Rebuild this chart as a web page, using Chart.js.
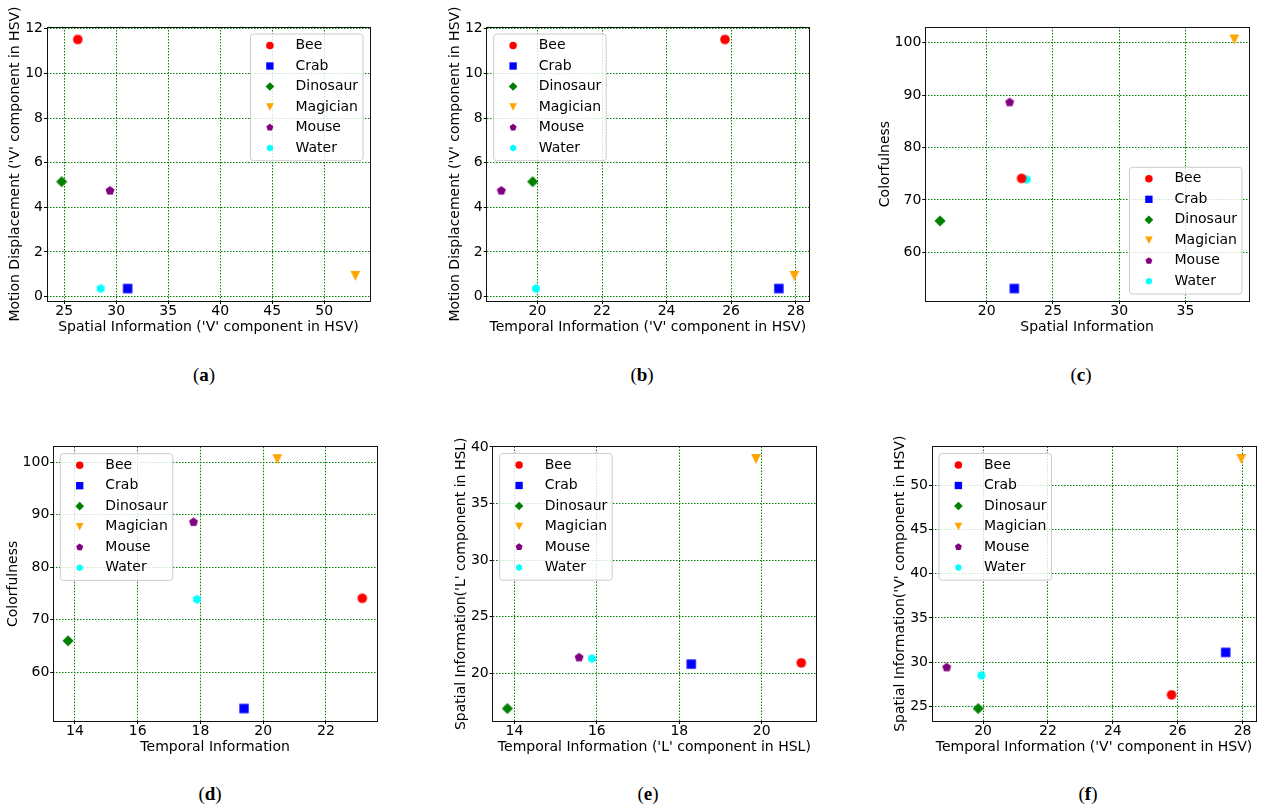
<!DOCTYPE html>
<html>
<head>
<meta charset="utf-8">
<title>Video feature scatter plots</title>
<script src="https://cdn.jsdelivr.net/npm/chart.js@4"></script>
<style>
body { margin: 0; width: 1261px; height: 809px; overflow: hidden; background: #fff; position: relative; }
canvas { position: absolute; }
.cap { position: absolute; font-family: "Liberation Serif", serif; font-size: 19px; transform: translate(-50%, -50%); white-space: nowrap; }
</style>
</head>
<body>
<div class="cap" style="left:204px;top:375px">(<b>a</b>)</div>
<div class="cap" style="left:642px;top:375px">(<b>b</b>)</div>
<div class="cap" style="left:1081px;top:375px">(<b>c</b>)</div>
<div class="cap" style="left:210px;top:794px">(<b>d</b>)</div>
<div class="cap" style="left:648px;top:794px">(<b>e</b>)</div>
<div class="cap" style="left:1088px;top:794px">(<b>f</b>)</div>

<script>
// one value per video, same order everywhere
const videos = ["Bee", "Crab", "Dinosaur", "Magician", "Mouse", "Water"];
const colors = ["#ff0000", "#0000ff", "#008000", "#ffa500", "#800080", "#00ffff"];
const markers = ["circle", "square", "diamond", "triDown", "pentagon", "hexagon"];

const spatialV = [26.3, 31.1, 24.75, 53.0, 29.4, 28.5];
const motionV = [11.52, 0.36, 5.15, 0.93, 4.74, 0.36];
const temporalV = [25.81, 27.48, 19.85, 27.96, 18.88, 19.95];
const spatial = [22.63, 22.08, 16.47, 38.69, 21.73, 23.01];
const colorfulness = [74.1, 53.1, 66.0, 100.6, 88.6, 73.9];
const temporal = [23.16, 19.39, 13.78, 20.45, 17.78, 17.89];
const temporalL = [20.96, 18.29, 13.83, 19.86, 15.57, 15.88];
const spatialL = [20.91, 20.8, 16.87, 38.94, 21.38, 21.29];

const spatialVTicks = [25, 30, 35, 40, 45, 50];
const spatialVTicksY = [25, 30, 35, 40, 45, 50];
const motionTicks = [0, 2, 4, 6, 8, 10, 12];
const temporalVTicks = [20, 22, 24, 26, 28];
const spatialTicks = [20, 25, 30, 35];
const colorTicks = [60, 70, 80, 90, 100];
const temporalTicks = [14, 16, 18, 20, 22];
const temporalLTicks = [14, 16, 18, 20];
const spatialLTicks = [20, 25, 30, 35, 40];

const panels = [
  { x: spatialV, y: motionV, xt: spatialVTicks, yt: motionTicks,
    xl: "Spatial Information ('V' component in HSV)", yl: "Motion Displacement ('V' component in HSV)",
    plot: [47, 27, 372, 301], titleX: 15.5, legend: "ur" },
  { x: temporalV, y: motionV, xt: temporalVTicks, yt: motionTicks,
    xl: "Temporal Information ('V' component in HSV)", yl: "Motion Displacement ('V' component in HSV)",
    plot: [486.7, 27, 811, 301], titleX: 455.5, legend: "ul" },
  { x: spatial, y: colorfulness, xt: spatialTicks, yt: colorTicks,
    xl: "Spatial Information", yl: "Colorfulness",
    plot: [925.3, 27, 1250.3, 301], titleX: 885, legend: "lr" },
  { x: temporal, y: colorfulness, xt: temporalTicks, yt: colorTicks,
    xl: "Temporal Information", yl: "Colorfulness",
    plot: [53.3, 446.7, 379, 721], titleX: 13, legend: "ul" },
  { x: temporalL, y: spatialL, xt: temporalLTicks, yt: spatialLTicks,
    xl: "Temporal Information ('L' component in HSL)", yl: "Spatial Information('L' component in HSL)",
    plot: [492.7, 446.5, 817.7, 721], titleX: 461, legend: "ul" },
  { x: temporalV, y: spatialV, xt: temporalVTicks, yt: spatialVTicksY,
    xl: "Temporal Information ('V' component in HSV)", yl: "Spatial Information('V' component in HSV)",
    plot: [932, 446.5, 1257.7, 721], titleX: 900.5, legend: "ul" },
];

Chart.defaults.font.family = "'DejaVu Sans', sans-serif";
Chart.defaults.font.size = 14;
Chart.defaults.color = "#000";

function markerPath(ctx, shape, x, y, s) {
  ctx.beginPath();
  if (shape === "circle") {
    ctx.arc(x, y, 4.8 * s, 0, Math.PI * 2);
  } else if (shape === "square") {
    const h = 4.7 * s;
    ctx.rect(x - h, y - h, 2 * h, 2 * h);
  } else if (shape === "diamond") {
    const h = 5.6 * s;
    ctx.moveTo(x, y - h); ctx.lineTo(x + h, y); ctx.lineTo(x, y + h); ctx.lineTo(x - h, y);
  } else if (shape === "triDown") {
    const h = 4.9 * s;
    ctx.moveTo(x - h, y - h); ctx.lineTo(x + h, y - h); ctx.lineTo(x, y + h);
  } else {
    const n = shape === "pentagon" ? 5 : 6;
    const r = (n === 5 ? 4.7 : 4.5) * s;
    for (let k = 0; k < n; k++) {
      const a = -Math.PI / 2 + k * 2 * Math.PI / n;
      if (k === 0) ctx.moveTo(x + r * Math.cos(a), y + r * Math.sin(a));
      else ctx.lineTo(x + r * Math.cos(a), y + r * Math.sin(a));
    }
  }
  ctx.closePath();
}

function markerImage(shape, color) {
  const c = document.createElement("canvas");
  c.width = 16; c.height = 16;
  const g = c.getContext("2d");
  g.fillStyle = color;
  markerPath(g, shape, 8, 8, 1);
  g.fill();
  return c;
}

function limits(vals) {
  const lo = Math.min(...vals), hi = Math.max(...vals), m = (hi - lo) * 0.05;
  return [lo - m, hi + m];
}

function crisp(v) { return Math.round(v - 0.5) + 0.5; }

const framePlugin = {
  id: "frame",
  afterDatasetsDraw(chart) {
    const { ctx, chartArea: a } = chart;
    ctx.save();
    ctx.strokeStyle = "#111";
    ctx.lineWidth = 1;
    const l = crisp(a.left), t = crisp(a.top), r = crisp(a.right), b = crisp(a.bottom);
    ctx.strokeRect(l, t, r - l, b - t);
    ctx.restore();
  }
};

function drawLegend(chart, corner) {
  const { ctx, chartArea: a } = chart;
  const W = 112.5, H = 126.7, m = 7, rad = 3;
  const x0 = corner[1] === "r" ? a.right - m - W : a.left + m;
  const y0 = corner[0] === "u" ? a.top + m : a.bottom - m - H;
  ctx.save();
  ctx.beginPath();
  ctx.moveTo(x0 + rad, y0);
  ctx.arcTo(x0 + W, y0, x0 + W, y0 + H, rad);
  ctx.arcTo(x0 + W, y0 + H, x0, y0 + H, rad);
  ctx.arcTo(x0, y0 + H, x0, y0, rad);
  ctx.arcTo(x0, y0, x0 + W, y0, rad);
  ctx.closePath();
  ctx.fillStyle = "rgba(255,255,255,0.8)";
  ctx.fill();
  ctx.strokeStyle = "#cccccc";
  ctx.lineWidth = 1;
  ctx.stroke();
  ctx.font = "14px 'DejaVu Sans', sans-serif";
  ctx.textBaseline = "middle";
  ctx.textAlign = "left";
  chart.data.datasets.forEach((ds, i) => {
    const cy = y0 + 11.5 + i * 20.5;
    ctx.fillStyle = ds.backgroundColor;
    markerPath(ctx, ds.marker, x0 + 19.4, cy, 0.78);
    ctx.fill();
    ctx.fillStyle = "#000";
    ctx.fillText(ds.label, x0 + 45, cy);
  });
  ctx.restore();
}

panels.forEach((p) => {
  const [L, T, R, B] = p.plot;
  const left = Math.round(p.titleX - 8.4);
  const top = Math.max(0, Math.round(T - 26));
  const w = Math.ceil(R + 3 - left);
  const h = Math.ceil(B + 36.4 - top);
  const yW = L - left;
  const xH = h - (B - top);

  const cv = document.createElement("canvas");
  cv.width = w; cv.height = h;
  cv.style.left = left + "px";
  cv.style.top = top + "px";
  document.body.appendChild(cv);

  const [xmin, xmax] = limits(p.x);
  const [ymin, ymax] = limits(p.y);

  const gridOpts = { color: "#008000", lineWidth: 1, tickLength: 3, tickColor: "#000", tickWidth: 1, tickBorderDash: [] };
  const borderOpts = { display: false, dash: [1.5, 1.5] };

  new Chart(cv, {
    type: "scatter",
    data: {
      datasets: videos.map((name, i) => ({
        label: name,
        marker: markers[i],
        data: [{ x: p.x[i], y: p.y[i] }],
        backgroundColor: colors[i],
        pointStyle: markerImage(markers[i], colors[i]),
        pointRadius: 5,
        borderWidth: 0,
      })),
    },
    options: {
      responsive: false,
      animation: false,
      events: [],
      layout: { padding: { left: 0, top: T - top, right: w - (R - left), bottom: 0 } },
      plugins: { legend: { display: false }, tooltip: { enabled: false } },
      scales: {
        x: {
          type: "linear", min: xmin, max: xmax,
          afterBuildTicks: (s) => { s.ticks = p.xt.map((v) => ({ value: v })); },
          afterFit: (s) => { s.height = xH; },
          ticks: { callback: (v) => String(v), padding: 0, font: { size: 14, lineHeight: 1.1 }, color: "#000", autoSkip: false, maxRotation: 0 },
          grid: gridOpts,
          border: borderOpts,
          title: { display: true, text: p.xl, color: "#000", font: { size: 14, lineHeight: 1.2 }, padding: { top: 0, bottom: 2 } },
        },
        y: {
          type: "linear", min: ymin, max: ymax,
          afterBuildTicks: (s) => { s.ticks = p.yt.map((v) => ({ value: v })); },
          afterFit: (s) => { s.width = yW; },
          ticks: { callback: (v) => String(v), padding: 1, font: { size: 14, lineHeight: 1.1 }, color: "#000", autoSkip: false },
          grid: gridOpts,
          border: borderOpts,
          title: { display: true, text: p.yl, color: "#000", font: { size: 14, lineHeight: 1.2 }, padding: { top: 0, bottom: 0 } },
        },
      },
    },
    plugins: [framePlugin, { id: "boxLegend", afterDraw: (chart) => drawLegend(chart, p.legend) }],
  });
});
</script>
</body>
</html>
